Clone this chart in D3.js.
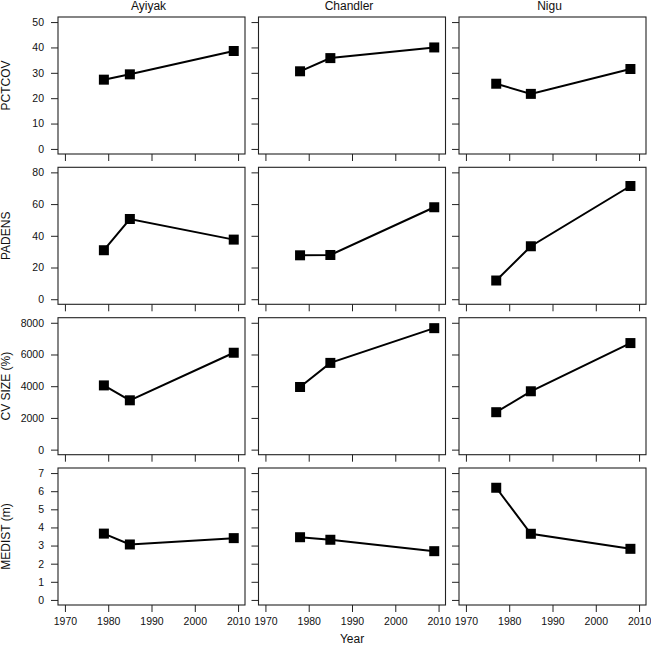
<!DOCTYPE html>
<html>
<head>
<meta charset="utf-8">
<script src="https://cdn.jsdelivr.net/npm/d3@7"></script>
<style>
  html, body { margin: 0; padding: 0; background: #fff; }
  svg { display: block; font-family: "Liberation Sans", Arial, Helvetica, sans-serif; }
</style>
</head>
<body>
<svg id="chart" width="651" height="646"></svg>
<script>
// ---- data ----
const sites = ["Ayiyak", "Chandler", "Nigu"];
const variables = ["PCTCOV", "PADENS", "CV SIZE (%)", "MEDIST (m)"];

const yearsAyiyak = [1979, 1985, 2009];
const yearsChandler = [1978, 1985, 2009];
const yearsNigu = [1977, 1985, 2008];

// values per site: [Ayiyak, Chandler, Nigu]
const pctcov = [[27.3, 29.4, 38.6], [30.6, 35.8, 40.0], [25.7, 21.7, 31.5]];
const padens = [[30.9, 50.6, 37.6], [27.7, 27.9, 58.0], [11.8, 33.4, 71.4]];
const cvsize = [[4050, 3110, 6110], [3950, 5470, 7660], [2360, 3680, 6720]];
const medist = [[3.66, 3.06, 3.41], [3.46, 3.32, 2.69], [6.19, 3.65, 2.82]];

const xTicks = [1970, 1980, 1990, 2000, 2010];
const yTicksPctcov = [0, 10, 20, 30, 40, 50];
const yTicksPadens = [0, 20, 40, 60, 80];
const yTicksCvsize = [0, 2000, 4000, 6000, 8000];
const yTicksMedist = [0, 1, 2, 3, 4, 5, 6, 7];

// ---- layout ----
const siteYears = [yearsAyiyak, yearsChandler, yearsNigu];
const rowValues = [pctcov, padens, cvsize, medist];
const rowTicks = [yTicksPctcov, yTicksPadens, yTicksCvsize, yTicksMedist];

const colLeft = [58, 258.5, 459];
const panelW = 187;
const rowTop = [17, 167.3, 317.7, 468];
const panelH = 137;
const tickLen = 7;
const axisCol = "#222";

const svg = d3.select("#chart");

const xDomain = [1968.4, 2011.6];

rowValues.forEach((vals, r) => {
  const ticks = rowTicks[r];
  const yMax = ticks[ticks.length - 1];
  const pad = yMax * 0.04;
  sites.forEach((site, c) => {
    const x = d3.scaleLinear().domain(xDomain).range([colLeft[c], colLeft[c] + panelW]);
    const y = d3.scaleLinear().domain([-pad, yMax + pad]).range([rowTop[r] + panelH, rowTop[r]]);
    const g = svg.append("g");

    // x axis (ticks on all rows, labels only bottom row)
    const xAxis = d3.axisBottom(x).tickValues(xTicks).tickSize(tickLen).tickSizeOuter(0)
      .tickFormat(r === rowValues.length - 1 ? d3.format("d") : () => "");
    const gx = g.append("g").attr("transform", `translate(0,${rowTop[r] + panelH})`).call(xAxis);
    gx.select(".domain").remove();
    gx.selectAll("line").attr("stroke", axisCol);
    gx.selectAll("text").attr("fill", "#111").attr("font-size", "10.5px").attr("dy", "0.95em")
      .attr("font-family", "Liberation Sans, Arial, sans-serif");

    // y axis (ticks all columns, labels only first column)
    const yAxis = d3.axisLeft(y).tickValues(ticks).tickSize(tickLen).tickSizeOuter(0)
      .tickFormat(c === 0 ? d3.format("d") : () => "");
    const gy = g.append("g").attr("transform", `translate(${colLeft[c]},0)`).call(yAxis);
    gy.select(".domain").remove();
    gy.selectAll("line").attr("stroke", axisCol);
    gy.selectAll("text").attr("fill", "#111").attr("font-size", "10.5px").attr("x", -14)
      .attr("font-family", "Liberation Sans, Arial, sans-serif");

    // panel box
    g.append("rect")
      .attr("x", colLeft[c]).attr("y", rowTop[r])
      .attr("width", panelW).attr("height", panelH)
      .attr("fill", "none").attr("stroke", axisCol).attr("stroke-width", 1.1);

    // data
    const pts = siteYears[c].map((yr, i) => ({ year: yr, v: vals[c][i] }));
    g.append("path")
      .datum(pts)
      .attr("fill", "none").attr("stroke", "#000").attr("stroke-width", 2)
      .attr("d", d3.line().x(d => x(d.year)).y(d => y(d.v)));
    const s = 10;
    g.selectAll("rect.pt").data(pts).join("rect")
      .attr("class", "pt")
      .attr("x", d => x(d.year) - s / 2).attr("y", d => y(d.v) - s / 2)
      .attr("width", s).attr("height", s).attr("fill", "#000");
  });

  // row label
  const cy = rowTop[r] + panelH / 2;
  svg.append("text")
    .attr("transform", `translate(10,${cy}) rotate(-90)`)
    .attr("text-anchor", "middle").attr("font-size", "12px").attr("fill", "#111")
    .text(variables[r]);
});

// column titles
sites.forEach((site, c) => {
  svg.append("text")
    .attr("x", colLeft[c] + panelW / 2 - 3).attr("y", 9.5)
    .attr("text-anchor", "middle").attr("font-size", "12px").attr("fill", "#111")
    .text(site);
});

// x axis title
svg.append("text")
  .attr("x", (colLeft[0] + colLeft[2] + panelW) / 2).attr("y", 642.5)
  .attr("text-anchor", "middle").attr("font-size", "12px").attr("fill", "#111")
  .text("Year");
</script>
</body>
</html>
